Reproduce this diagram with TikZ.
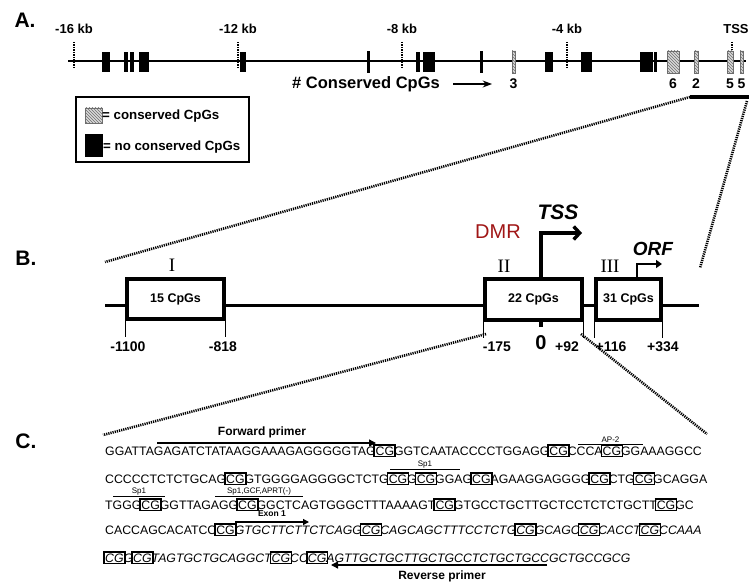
\documentclass[tikz,border=0pt]{standalone}
\usepackage{fontspec}
\setmainfont{Liberation Sans}
\newfontfamily\romfont{Liberation Serif}
\usepackage{tikz}
\usetikzlibrary{arrows.meta,positioning,calc,patterns}
\definecolor{dmrred}{RGB}{160, 22, 22}
\definecolor{hatchgray}{RGB}{110, 110, 110}
\colorlet{hatchfill}{gray!30}
\newcommand{\cgb}{{\setlength\fboxsep{0.4pt}\setlength\fboxrule{1.7pt}\kern-2.1pt\fbox{CG}\kern-2.1pt}}
\newcommand{\fs}[1]{\fontsize{#1}{#1}\selectfont}
\tikzset{
  panel/.style={font=\bfseries\fs{21}},
  kblbl/.style={font=\bfseries\fs{13}},
  kbtick/.style={line width=1.9pt,dash pattern=on 1.2pt off 1.3pt},
  zoomline/.style={line width=2.6pt,dash pattern=on 1.2pt off 1pt},
  hatched/.style={draw=hatchgray,line width=0.7pt,fill=hatchfill,postaction={pattern=north west lines,pattern color=hatchgray}},
  cpgbox/.style={draw,line width=3.2pt,fill=white,font=\bfseries\fs{12.5},inner sep=0pt},
  romlbl/.style={font=\romfont\fs{19}},
  poslbl/.style={font=\bfseries\fs{14}},
  seqline/.style={anchor=base west,inner sep=0pt,font=\fs{12.3}},
  tfbs/.style={font=\fs{8},inner sep=1pt},
}
\begin{document}
\begin{tikzpicture}[x=1pt,y=-1pt,>=Stealth]
\useasboundingbox (0,0) rectangle (749,585);
% panel letters
\node[panel] (labA) at (25,20) {A.};
\node[panel] (labB) at (26,258) {B.};
\node[panel] (labC) at (26,441) {C.};
% ---- A: genomic region ----
\draw[line width=2.2pt] (68,61) -- (746,61);
\foreach \x/\t in {74/-16 kb,238/-12 kb,402/-8 kb,567/-4 kb}{
  \draw[kbtick] (\x,42) -- (\x,69);
  \node[kblbl] at (\x,29) {\t};
}
\draw[kbtick] (732,42) -- (732,50);
\node[kblbl] at (736,29) {TSS};
\foreach \a/\b in {102/110,124/128,130/134,139/149,240/246,416/420,423/435,545/553,581/592,640/653,654/657}
  \fill (\a,52) rectangle (\b,72);
\foreach \a/\b in {367/370,480/483}
  \fill (\a,51) rectangle (\b,73);
\foreach \a/\b/\n in {512/515/3,667/679/6,694/698/2,727/733/5,740/743/5}{
  \draw[hatched] (\a,51) rectangle (\b,73);
  \node[kblbl,font=\bfseries\fs{14}] at ({(\a+\b)/2},84) {\n};
}
\node[font=\bfseries\fs{16.5}] (cons) at (366,84) {\# Conserved CpGs};
\coordinate (consend) at (492,84);
\draw[->,line width=1.4pt] ([xshift=10pt]cons.east) -- (consend);
% legend
\draw[line width=1.4pt] (76,97) rectangle (249,162);
\draw[hatched] (85,108) rectangle (102,123);
\node[anchor=west,inner sep=0pt,font=\bfseries\fs{13.3}] (legcons) at (102,116) {= conserved CpGs};
\fill (85,134) rectangle (103,157);
\node[anchor=west,inner sep=0pt,font=\bfseries\fs{13.3}] (legnon) at (103,147) {= no conserved CpGs};
% zoom bar
\coordinate (barL) at (690,97);
\coordinate (barR) at (749,97);
\draw[line width=3.2pt] (barL) -- (barR);
\coordinate (bL) at (105,262);
\coordinate (bR) at (700,268);
\draw[zoomline] (barL) -- (bL);
\draw[zoomline] (747,101) -- (bR);
% ---- B: promoter ----
\draw[line width=3pt] (105,305) -- (699,305);
\node[cpgbox,minimum width=97pt,minimum height=40pt] (r1) at (175.5,299) {15 CpGs};
\node[cpgbox,minimum width=97pt,minimum height=41pt] (r2) at (533.5,299.5) {22 CpGs};
\node[cpgbox,minimum width=65pt,minimum height=41pt] (r3) at (628.5,299.5) {31 CpGs};
\node[romlbl] at (172,265) {I};
\node[romlbl] at (504,266) {II};
\node[romlbl] at (610,266) {III};
\foreach \nd/\side/\t in {r1/south west/-1100,r1/south east/-818,r2/south west/-175,r2/south east/+92,r3/south west/+116,r3/south east/+334}
  \draw[line width=1pt] (\nd.\side) -- ++(0,16);
\node[poslbl] at (128,347) {-1100};
\node[poslbl] at (223,347) {-818};
\node[poslbl] at (497,347) {-175};
\node[poslbl] at (567,347) {+92};
\node[poslbl] at (611,347) {+116};
\node[poslbl] at (663,347) {+334};
\draw[line width=3.2pt] (541,320) -- (541,327);
\node[font=\bfseries\fs{20}] (zero) at (541,343) {0};
% TSS and ORF arrows
\coordinate (tss) at (541,233);
\coordinate (tssend) at (582,233);
\draw[line width=3.4pt,-{Straight Barb[length=6pt,width=13pt]}] (tss |- r2.north) -- (tss) -- (tssend);
\node[font=\bfseries\itshape\fs{21}] (tsslbl) at (558,212) {TSS};
\node[font=\fs{20},text=dmrred] (dmr) at (498,232) {DMR};
\coordinate (orf) at (637,264);
\coordinate (orfend) at (662,264);
\draw[line width=1.9pt,-{Triangle[length=6pt,width=8pt]}] (orf |- r3.north) -- (orf) -- (orfend);
\node[font=\bfseries\itshape\fs{19}] (orflbl) at (653,249) {ORF};
% zoom to sequence
\coordinate (cL) at (103,435);
\coordinate (cR) at (707,434);
\draw[zoomline] (486,334) -- (cL);
\draw[zoomline] (581,334) -- (cR);
% ---- C: sequence ----
\node[seqline] (s1) at (105,455) {GGATTAGAGATCTATAAGGAAAGAGGGGGTAG\cgb GGTCAATACCCCTGGAGG\cgb CCCA\cgb GGAAAGGCC};
\node[seqline] (s2) at (105,483) {CCCCCTCTCTGCAG\cgb GTGGGGAGGGGCTCTG\cgb G\cgb GGAG\cgb AGAAGGAGGGG\cgb CTG\cgb GCAGGA};
\node[seqline] (s3) at (105,509) {TGGG\cgb GGTTAGAGG\cgb GGCTCAGTGGGCTTTAAAAGT\cgb GTGCCTGCTTGCTCCTCTCTGCTT\cgb GC};
\node[seqline] (s4) at (105,534) {CACCAGCACATCC\cgb\itshape GTGCTTCTTCTCAGG\cgb CAGCAGCTTTCCTCTG\cgb GCAGC\cgb CACCT\cgb CCAAA};
\node[seqline,font=\itshape\fs{12.3}] (s5) at (105,562) {\cgb G\cgb TAGTGCTGCAGGCT\cgb CC\cgb AGTTGCTGCTTGCTGCCTCTGCTGCCGCTGCCGCG};
% primers and exon
\coordinate (fwdA) at (157,443);
\coordinate (fwdB) at (376,443);
\draw[line width=1.3pt,-{Triangle[length=7pt,width=7pt]}] (fwdA) -- (fwdB);
\node[font=\bfseries\fs{12}] (fwd) at (262,432) {Forward primer};
\coordinate (exA) at (235,522);
\coordinate (exB) at (309,522);
\draw[line width=1.3pt,-{Triangle[length=6pt,width=6pt]}] (exA) -- (exB);
\node[font=\bfseries\fs{8.5},inner sep=1pt] (exon) at (272,514) {Exon 1};
\coordinate (revA) at (547,565);
\coordinate (revB) at (331,565);
\draw[line width=1.3pt,-{Triangle[length=7pt,width=7pt]}] (revA) -- (revB);
\node[font=\bfseries\fs{12}] (rev) at (442,576) {Reverse primer};
% binding sites
\foreach \a/\b/\y/\t in {578/643/444/AP-2,390/460/469/Sp1,113/165/496/Sp1,215/303/496/{Sp1,GCF,APRT(-)}}{
  \draw[line width=0.8pt] (\a,\y) -- (\b,\y);
  \node[tfbs,anchor=south] at ({(\a+\b)/2},\y) {\t};
}
\end{tikzpicture}
\end{document}
